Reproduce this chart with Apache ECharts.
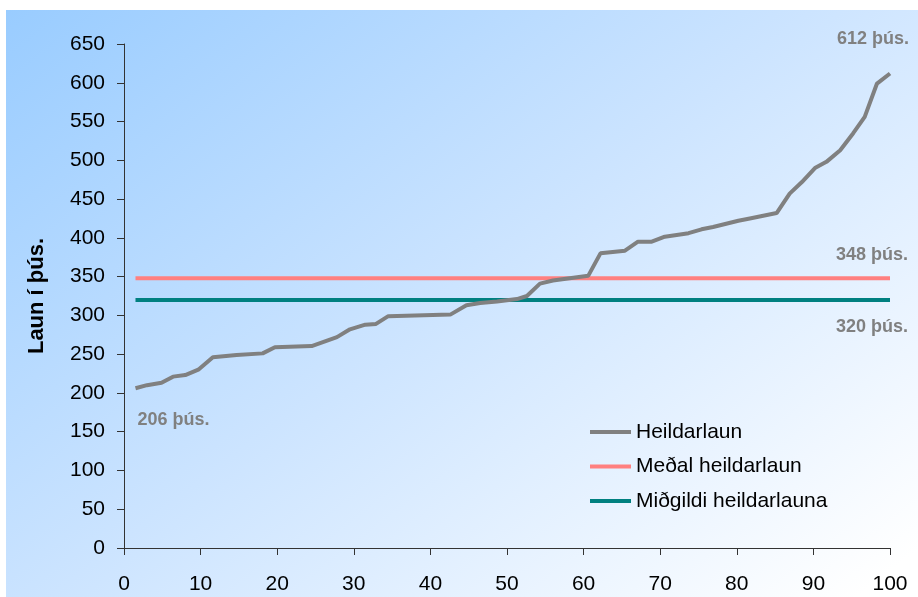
<!DOCTYPE html>
<html>
<head>
<meta charset="utf-8">
<script src="https://cdn.jsdelivr.net/npm/echarts@6/dist/echarts.min.js"></script>
<style>
html,body{margin:0;padding:0;background:#fff;}
#chart{width:918px;height:597px;}
</style>
</head>
<body>
<div id="chart"></div>
<script>
// Heildarlaun (percentile, value in thousands)
var heildarX = [1.5,3,4.9,6.4,8,9.7,11.6,14.7,18.1,19.7,24.5,27.8,29.5,31.5,32.9,34.5,42.6,44.7,46.5,48.7,51.3,52.6,54.3,56,60.6,62.2,65.4,67.1,68.9,70.6,73.7,75.4,76.9,80.2,81.7,85.2,86.9,88.5,90.2,91.7,93.5,95.2,96.7,98.3,100];
var heildarY = [206,210,213,221,223,230,246,249,251,259,260.5,272,282,288,289,299,301,313,316,318,321,325,341,345,351,380,383.5,395,395,401.5,406,411,414,422,425,432,457,472,490,498,513,535,556,599,612];
var lineX = [1.5, 100];
var medalValue = 348;
var midgildiValue = 320;
var seriesNames = ['Heildarlaun', 'Meðal heildarlaun', 'Miðgildi heildarlauna'];
var xTicks = {min: 0, max: 100, interval: 10};
var yTicks = {min: 0, max: 650, interval: 50};
var unit = ' þús.';

var heildarData = heildarX.map(function(x, i){ return [x, heildarY[i]]; });
var medalData = lineX.map(function(x){ return [x, medalValue]; });
var midData = lineX.map(function(x){ return [x, midgildiValue]; });

var font = 'Liberation Sans, Arial, sans-serif';
var labelStyle = {show: true, position: 'inside', color: '#808080', fontWeight: 'bold', fontSize: 18, fontFamily: font};
function mp(coord, text, offset){
  return {
    symbol: 'circle', symbolSize: 0, silent: true, animation: false,
    data: [{coord: coord, label: Object.assign({}, labelStyle, {formatter: text, offset: offset})}]
  };
}

var chart = echarts.init(document.getElementById('chart'), null, {renderer: 'canvas'});
chart.setOption({
  animation: false,
  backgroundColor: '#ffffff',
  textStyle: {fontFamily: font},
  graphic: [{
    type: 'rect', z: -10, silent: true,
    shape: {x: 6, y: 10, width: 912, height: 587},
    style: {fill: new echarts.graphic.LinearGradient(6, 10, 606, 790, [
      {offset: 0, color: '#99CCFF'},
      {offset: 0.5, color: '#CCE4FF'},
      {offset: 1, color: '#FFFFFF'}
    ], true)}
  }],
  grid: {left: 124, right: 28, top: 44, bottom: 49, containLabel: false},
  legend: {
    orient: 'vertical', left: 590, top: 421.5, padding: 0,
    itemWidth: 41, itemHeight: 4, itemGap: 13.5, icon: 'rect',
    textStyle: {fontSize: 21, color: '#000', fontFamily: font, lineHeight: 21},
    data: seriesNames
  },
  xAxis: {
    type: 'value', min: xTicks.min, max: xTicks.max, interval: xTicks.interval,
    axisLine: {show: true, lineStyle: {color: '#333', width: 1}},
    axisTick: {show: true, length: 7, lineStyle: {color: '#333'}},
    axisLabel: {fontSize: 21, color: '#000', margin: 26, fontFamily: font},
    splitLine: {show: false}
  },
  yAxis: {
    type: 'value', min: yTicks.min, max: yTicks.max, interval: yTicks.interval,
    name: 'Laun í þús.', nameLocation: 'middle', nameGap: 76, nameRotate: 90,
    nameTextStyle: {fontSize: 22, fontWeight: 'bold', color: '#000', fontFamily: font},
    axisLine: {show: true, lineStyle: {color: '#333', width: 1}},
    axisTick: {show: true, length: 7, lineStyle: {color: '#333'}},
    axisLabel: {fontSize: 21, color: '#000', margin: 19, fontFamily: font},
    splitLine: {show: false}
  },
  series: [
    {
      name: seriesNames[0], type: 'line', data: heildarData, showSymbol: false, symbol: 'none',
      lineStyle: {color: '#808080', width: 4}, itemStyle: {color: '#808080'}, z: 3,
      markPoint: {
        symbol: 'circle', symbolSize: 0, silent: true,
        data: [
          {coord: heildarData[heildarData.length-1], label: Object.assign({}, labelStyle, {formatter: heildarY[heildarY.length-1] + unit, offset: [-17, -34]})},
          {coord: heildarData[0], label: Object.assign({}, labelStyle, {formatter: heildarY[0] + unit, offset: [38, 32]})}
        ]
      }
    },
    {
      name: seriesNames[1], type: 'line', data: medalData, showSymbol: false, symbol: 'none',
      lineStyle: {color: '#FF8080', width: 4}, itemStyle: {color: '#FF8080'}, z: 2,
      markPoint: mp(medalData[1], medalValue + unit, [-18, -23])
    },
    {
      name: seriesNames[2], type: 'line', data: midData, showSymbol: false, symbol: 'none',
      lineStyle: {color: '#008080', width: 4}, itemStyle: {color: '#008080'}, z: 2,
      markPoint: mp(midData[1], midgildiValue + unit, [-18, 27])
    }
  ]
});
</script>
</body>
</html>
